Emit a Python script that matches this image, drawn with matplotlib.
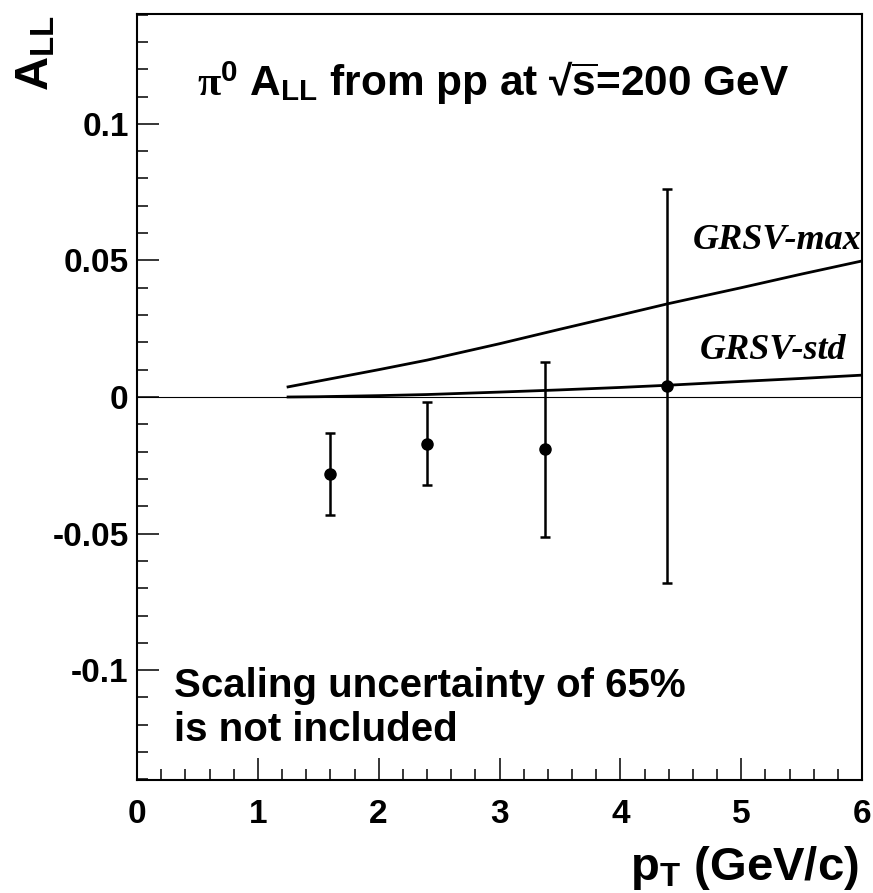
import matplotlib
matplotlib.use('Agg')
import matplotlib.pyplot as plt
from matplotlib.ticker import MultipleLocator

# measured asymmetry points
pt = [1.60, 2.40, 3.38, 4.39]
all_val = [-0.0281, -0.0171, -0.0191, 0.0039]
all_err = [0.0150, 0.0151, 0.0320, 0.0721]

# theory curves
curve_pt = [1.25, 1.5, 2.0, 2.4, 3.0, 3.5, 4.0, 4.39, 5.0, 5.5, 6.0]
grsv_max = [0.0037, 0.0058, 0.0100, 0.0135, 0.0195, 0.0248, 0.0300, 0.0341, 0.0400, 0.0450, 0.0498]
grsv_std = [0.0000, 0.0001, 0.0005, 0.0009, 0.0018, 0.0026, 0.0035, 0.0043, 0.0057, 0.0068, 0.0080]

plt.rcParams['mathtext.fontset'] = 'custom'
plt.rcParams['mathtext.rm'] = 'Liberation Serif'
plt.rcParams['mathtext.bf'] = 'Liberation Sans:bold'
plt.rcParams['mathtext.sf'] = 'Liberation Sans:bold'
plt.rcParams['mathtext.it'] = 'Liberation Serif:italic'
plt.rcParams['font.family'] = 'Liberation Sans'
plt.rcParams['font.weight'] = 'bold'

fig = plt.figure(figsize=(8.73, 8.93), dpi=100)
ax = fig.add_axes([137 / 873, 1 - 780 / 893, 725 / 873, 766 / 893])

ax.set_xlim(0, 6)
ax.set_ylim(-0.1402, 0.1402)

ax.axhline(0, color='black', lw=0.8)
ax.plot(curve_pt, grsv_max, color='black', lw=2.0)
ax.plot(curve_pt, grsv_std, color='black', lw=2.0)
ax.errorbar(pt, all_val, yerr=all_err, fmt='o', color='black', ms=8,
            elinewidth=1.8, capsize=3.5, capthick=1.8)

# ticks, ROOT style
ax.xaxis.set_major_locator(MultipleLocator(1))
ax.xaxis.set_minor_locator(MultipleLocator(0.2))
ax.yaxis.set_major_locator(MultipleLocator(0.05))
ax.yaxis.set_minor_locator(MultipleLocator(0.01))
ax.tick_params(which='both', direction='in', top=False, right=False, width=1.1)
ax.tick_params(which='major', length=16, labelsize=24)
ax.tick_params(which='minor', length=8)
ax.tick_params(axis='x', pad=14)
ax.tick_params(axis='y', pad=6)
ax.set_yticks([-0.1, -0.05, 0, 0.05, 0.1])
ax.set_yticklabels(['-0.1', '-0.05', '0', '0.05', '0.1'])
ax.set_xticks([0, 1, 2, 3, 4, 5, 6])
ax.set_xticklabels(['0', '1', '2', '3', '4', '5', '6'])
for sp in ax.spines.values():
    sp.set_linewidth(1.5)

# axis titles
fig.text(859 / 873, 1 - 880 / 893, r'p$_{\mathbf{T}}$ (GeV/c)', fontsize=34,
         fontweight='bold', ha='right', va='baseline')
fig.text(15 / 873, 1 - 15 / 893, r'A$_{\mathbf{LL}}$', fontsize=34,
         fontweight='bold', rotation=90, ha='right', va='top',
         rotation_mode='anchor')

# annotations
ax.text(0.0828, 0.8943,
        r'$\mathrm{\pi}^{\mathbf{0}}$ A$_{\mathbf{LL}}$ from pp at √$\overline{\mathbf{s}}$=200 GeV',
        transform=ax.transAxes, fontsize=30.5, fontweight='bold', va='baseline')
ax.text(0.051, 0.1084, 'Scaling uncertainty of 65%', transform=ax.transAxes,
        fontsize=29, fontweight='bold', va='baseline')
ax.text(0.051, 0.0509, 'is not included', transform=ax.transAxes,
        fontsize=29, fontweight='bold', va='baseline')
ax.text(6.0, 0.0542, 'GRSV-max', fontsize=26, ha='right', va='baseline',
        family='Liberation Serif', fontweight='bold', style='italic')
ax.text(5.87, 0.0139, 'GRSV-std', fontsize=26, ha='right', va='baseline',
        family='Liberation Serif', fontweight='bold', style='italic')

fig.savefig('out.png', dpi=100)
